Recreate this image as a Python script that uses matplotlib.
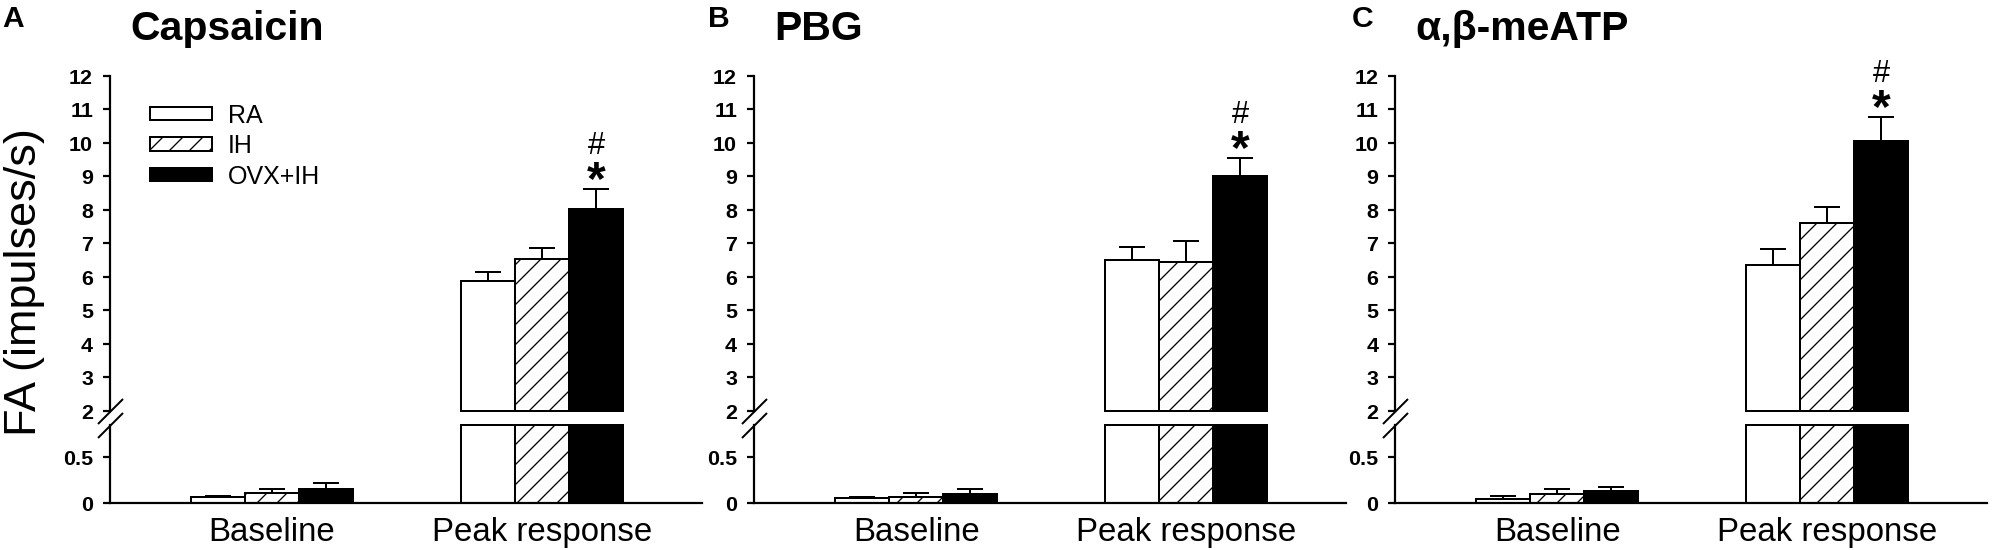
import matplotlib
matplotlib.use("Agg")
import matplotlib.pyplot as plt
import numpy as np

plt.rcParams['font.family'] = ['Liberation Sans', 'DejaVu Sans']

DPI = 120  # hatch spacing follows dpi
W, H = 2001, 550


def px(v):
    """ pixels -> points """
    return v * 72.0 / DPI


# data
groups = ['RA', 'IH', 'OVX+IH']
categories = ['Baseline', 'Peak response']
titles = ['Capsaicin', 'PBG', 'α,β-meATP']
letters = ['A', 'B', 'C']

baseline_mean = [[0.06, 0.105, 0.15], [0.05, 0.07, 0.095], [0.045, 0.095, 0.13]]
baseline_sem = [[0.015, 0.05, 0.07], [0.02, 0.04, 0.055], [0.03, 0.055, 0.04]]
peak_mean = [[5.88, 6.54, 8.03], [6.5, 6.43, 9.0], [6.36, 7.61, 10.06]]
peak_sem = [[0.27, 0.33, 0.6], [0.38, 0.65, 0.54], [0.48, 0.47, 0.72]]
signif = ['#', '*']  # above OVX+IH peak

faces = ['white', 'white', 'black']
hatches = ['', '//', '']

upper_ticks = list(range(2, 13))
lower_ticks = [0, 0.5]
lower_top = 0.848

plt.rcParams['hatch.linewidth'] = px(1.3)

fig = plt.figure(figsize=((W + 0.3) / DPI, (H + 0.3) / DPI), dpi=DPI)

axis_x = [110, 754, 1395]
letter_x = [2, 708, 1352]
ax_w = 592

lw = px(2.2)
bar_lw = px(2)


def style_axis(ax):
    ax.spines['top'].set_visible(False)
    ax.spines['right'].set_visible(False)
    ax.spines['left'].set_linewidth(lw)
    ax.spines['bottom'].set_linewidth(lw)
    ax.tick_params(axis='y', direction='out', length=px(7), width=lw,
                   labelsize=px(21.5), pad=px(10))
    for t in ax.get_yticklabels():
        t.set_fontweight('bold')


def break_mark(ax, y):
    ax.plot([0], [y], transform=ax.transAxes, marker=[(-1, -1), (1, 1)],
            markersize=px(25), mec='k', mew=px(2), ls='none', clip_on=False)


for p in range(3):
    x0 = axis_x[p]
    ax_top = fig.add_axes([x0 / W, (H - 411) / H, ax_w / W, 335 / H])
    ax_low = fig.add_axes([x0 / W, (H - 503) / H, ax_w / W, 78 / H])

    for ax in (ax_top, ax_low):
        ax.set_xlim(0, ax_w / 54.0)

    for i in range(3):
        xs = np.array([3 + i - 1, 8 + i - 1])
        means = np.array([baseline_mean[p][i], peak_mean[p][i]])
        sems = np.array([baseline_sem[p][i], peak_sem[p][i]])

        # lower part
        ax_low.bar(xs, np.minimum(means, lower_top), width=1, color=faces[i],
                   edgecolor='black', linewidth=bar_lw, hatch=hatches[i],
                   clip_on=False, zorder=2)
        # upper part
        up = means > 2
        ax_top.bar(xs[up], means[up] - 2, bottom=2, width=1, color=faces[i],
                   edgecolor='black', linewidth=bar_lw, hatch=hatches[i],
                   clip_on=False, zorder=2)

        low = ~up
        ax_low.errorbar(xs[low], means[low], yerr=[np.zeros(low.sum()), sems[low]],
                        fmt='none', ecolor='black', elinewidth=bar_lw,
                        capsize=px(13), capthick=bar_lw, zorder=1)
        ax_top.errorbar(xs[up], means[up], yerr=[np.zeros(up.sum()), sems[up]],
                        fmt='none', ecolor='black', elinewidth=bar_lw,
                        capsize=px(13), capthick=bar_lw, zorder=1)

    # significance marks on OVX+IH peak
    top_y = peak_mean[p][2] + peak_sem[p][2]
    ax_top.annotate(signif[1], xy=(9, top_y), xytext=(0, px(30)),
                    textcoords='offset points', ha='center', va='top',
                    fontsize=px(48), fontweight='bold')
    ax_top.annotate(signif[0], xy=(9, top_y), xytext=(0, px(58)),
                    textcoords='offset points', ha='center', va='top',
                    fontsize=px(31))

    ax_top.set_ylim(upper_ticks[0], upper_ticks[-1])
    ax_top.set_yticks(upper_ticks)
    ax_top.set_yticklabels([str(t) for t in upper_ticks])
    ax_top.spines['bottom'].set_visible(False)
    ax_top.set_xticks([])
    style_axis(ax_top)

    ax_low.set_ylim(0, lower_top)
    ax_low.set_yticks(lower_ticks)
    ax_low.set_yticklabels(['0', '0.5'])
    ax_low.set_xticks([3, 8])
    ax_low.set_xticklabels(categories, fontsize=px(33))
    ax_low.tick_params(axis='x', length=0, pad=px(14))
    style_axis(ax_low)

    break_mark(ax_top, 0)
    break_mark(ax_low, 1)

    fig.text(letter_x[p] / W, 1 - 5 / H, letters[p], ha='left', va='top',
             fontsize=px(30), fontweight='bold')
    fig.text((x0 + 20) / W, 1 - 10 / H, titles[p], ha='left', va='top',
             fontsize=px(41), fontweight='bold')

    if p == 0:
        handles = [plt.Rectangle((0, 0), 1, 1, facecolor=faces[i], edgecolor='black',
                                 linewidth=bar_lw, hatch=hatches[i]) for i in range(3)]
        ax_top.legend(handles, groups, loc='upper left',
                      bbox_to_anchor=((150 - x0) / ax_w, (411 - 104) / 335),
                      frameon=False, fontsize=px(25), handlelength=2.48,
                      handleheight=0.44, handletextpad=0.64, labelspacing=0.25,
                      borderpad=0, borderaxespad=0)

fig.text(24 / W, 1 - 282 / H, 'FA (impulses/s)', rotation=90, ha='center',
         va='center', fontsize=px(45))

fig.savefig('out.png', dpi=DPI)
